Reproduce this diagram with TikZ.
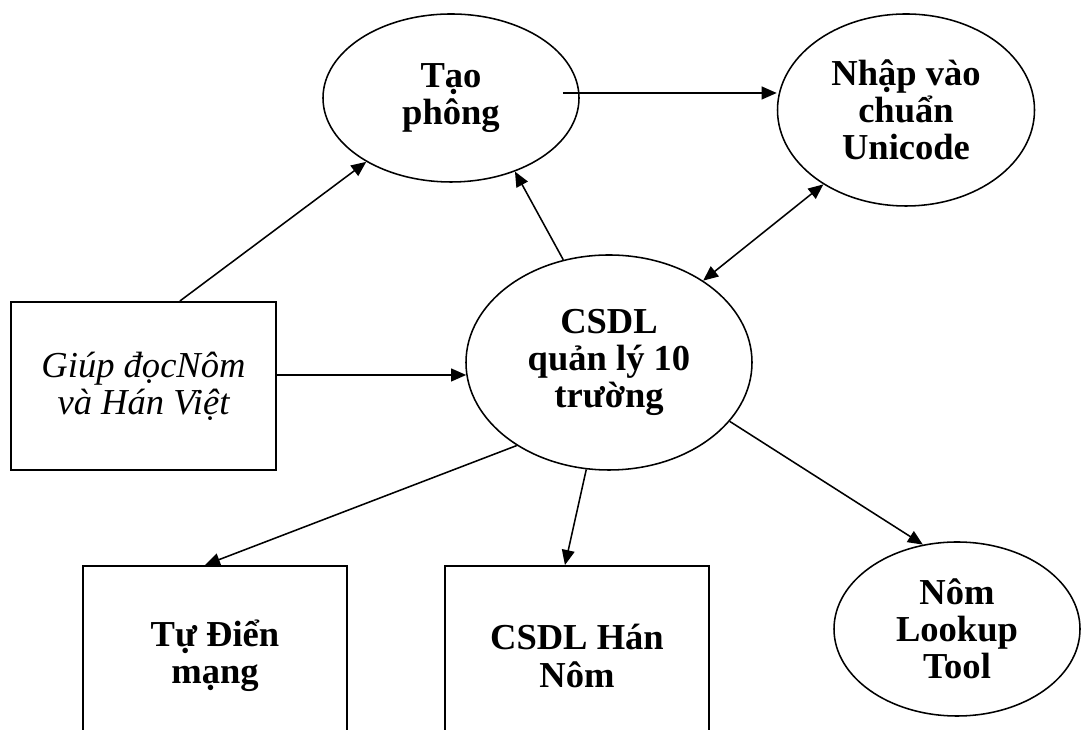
\documentclass[tikz,border=0pt]{standalone}
\usepackage{fontspec}
\setmainfont{Liberation Serif}
\usetikzlibrary{arrows.meta,positioning,shapes.geometric}

\begin{document}
\begin{tikzpicture}
        \fontsize{26}{26.5}\selectfont
        \tikzstyle{proc} = [ellipse,draw,line width=1.1pt,inner sep=0pt,align=center,font=\bfseries]
        \tikzstyle{box} = [rectangle,draw,line width=1.4pt,inner sep=0pt,align=center]
        \tikzstyle{arr} = [line width=1.1pt,>={Triangle[length=3.75mm,width=3.2mm]}]

        \useasboundingbox (0,0) rectangle (27.075,18.25);

        % input box
        \node[box,minimum width=6.625cm,minimum height=4.2cm,font=\itshape] (giup) at (3.5875,8.6) {Giúp đọcNôm\\và Hán Việt};

        % processes on top
        \node[proc,minimum width=6.4cm,minimum height=4.2cm] (tao) at (11.275,15.8) {Tạo\\phông};
        \node[proc,minimum width=6.425cm,minimum height=4.8cm] (nhap) at (22.65,15.5) {Nhập vào\\chuẩn\\Unicode};

        % central database
        \node[proc,minimum width=7.15cm,minimum height=5.375cm] (csdl) at (15.225,9.1875) {CSDL\\quản lý 10\\trường};

        % outputs
        \node[box,minimum width=6.6cm,minimum height=4.5cm,font=\bfseries] (tudien) at (5.375,1.85) {Tự Điển\\mạng};
        \node[box,minimum width=6.6cm,minimum height=4.5cm,font=\bfseries,right=2.4cm of tudien] (hannom) {CSDL Hán\\Nôm};
        \node[proc,minimum width=6.15cm,minimum height=4.35cm] (lookup) at (23.925,2.525) {Nôm\\Lookup\\Tool};

        % links
        \coordinate (taoout) at ([xshift=-4.25mm,yshift=1.25mm]tao.east);
        \draw[arr,->] ([xshift=9.1mm]giup.north) -- (tao.217);
        \draw[arr,->] (taoout) -- (taoout -| nhap.west);
        \draw[arr,->] (csdl.114) -- (tao.-49);
        \draw[arr,<->] (csdl.41) -- (nhap.222);
        \draw[arr,->] ([yshift=2.75mm]giup.east) -- (csdl.185);
        \draw[arr,->] (csdl.222) -- ([xshift=-2.5mm]tudien.north);
        \draw[arr,->] (csdl.258) -- ([xshift=-3mm]hannom.north);
        \draw[arr,->] (csdl.-26) -- (lookup.112);
\end{tikzpicture}
\end{document}
